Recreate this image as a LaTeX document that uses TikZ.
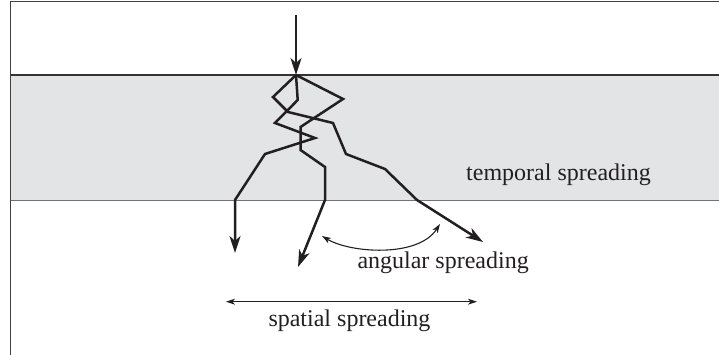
\documentclass[tikz,border=0pt]{standalone}
\usepackage{fontspec}
\setmainfont{Liberation Serif}
\usetikzlibrary{arrows.meta}
\definecolor{bandgray}{HTML}{E3E4E6}
\definecolor{ink}{HTML}{231F20}
\begin{document}
\begin{tikzpicture}[x=1pt,y=-1pt,
  ray/.style={draw=ink,line width=2.5pt,line join=miter,-{Stealth[length=17pt,width=11pt,inset=5pt]}},
  thinarrow/.style={draw=ink,line width=1.1pt,{Stealth[length=9pt,width=6pt,inset=2.5pt]}-{Stealth[length=9pt,width=6pt,inset=2.5pt]}},
  lbl/.style={font=\fontsize{24}{28}\selectfont,text=ink,inner sep=0pt,anchor=base west}]
\useasboundingbox (0,0) rectangle (719,355);
% band
\fill[bandgray] (10.5,75) rectangle (719,200.5);
\draw[draw=black!80,line width=1.2pt] (10.5,75) -- (719,75);
\draw[draw=black!55,line width=1.4pt] (10.5,200.5) -- (719,200.5);
% frame
\draw[draw=black!75,line width=1.4pt] (719,1.6) -- (10.7,1.6) -- (10.7,355);
% coordinates
\coordinate (src) at (296,15);
\coordinate (p0) at (296,75);
\coordinate (a1) at (297.7,100);
\coordinate (a2) at (275,123);
\coordinate (a3) at (315,138);
\coordinate (a4) at (265,154);
\coordinate (a5) at (235,200);
\coordinate (a6) at (235,253);
\coordinate (b1) at (343,99);
\coordinate (b2) at (300.5,127);
\coordinate (b3) at (300.5,150);
\coordinate (b4) at (325,167);
\coordinate (b5) at (325,200);
\coordinate (b6) at (298,267);
\coordinate (c1) at (273,97);
\coordinate (c2) at (288,112);
\coordinate (c3) at (333,123);
\coordinate (c4) at (346,154);
\coordinate (c5) at (385,169);
\coordinate (c6) at (417,200);
\coordinate (c7) at (483,242);
% rays
\draw[ray] (src) -- (p0);
\draw[ray] (p0) -- (a1) -- (a2) -- (a3) -- (a4) -- (a5) -- (a6);
\draw[ray] (p0) -- (b1) -- (b2) -- (b3) -- (b4) -- (b5) -- (b6);
\draw[ray] (p0) -- (c1) -- (c2) -- (c3) -- (c4) -- (c5) -- (c6) -- (c7);
% angular arc
\coordinate (ang1) at (322,236);
\coordinate (ang2) at (440,224);
\draw[thinarrow] (ang1) .. controls (350,253) and (418,258) .. (ang2);
% spatial arrow
\coordinate (sp1) at (226,301.7);
\coordinate (sp2) at (477,301.7);
\draw[thinarrow] (sp1) -- (sp2);
% labels
\node[lbl] (temporal) at (466,181) {temporal spreading};
\node[lbl] (angular) at (357.3,268.3) {angular spreading};
\node[lbl] (spatial) at (268.3,326) {spatial spreading};
\end{tikzpicture}
\end{document}
